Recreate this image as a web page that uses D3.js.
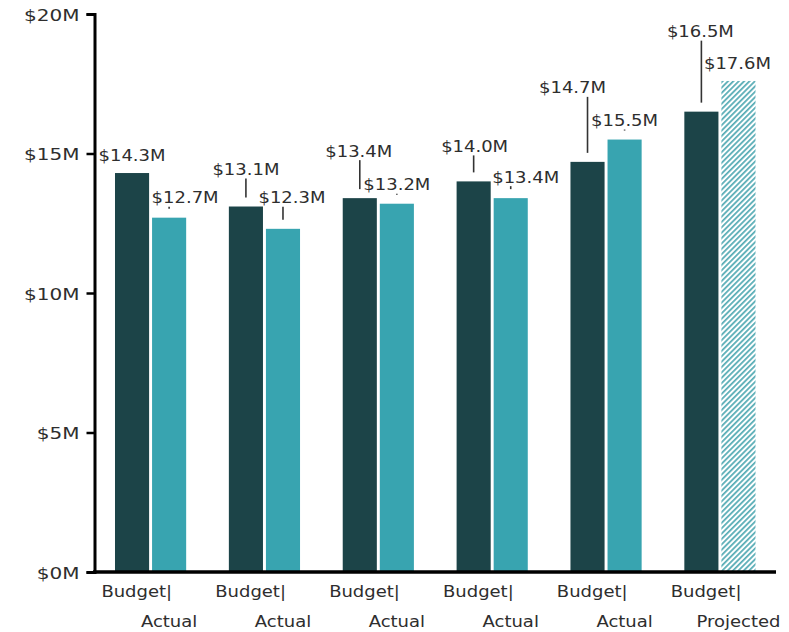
<!DOCTYPE html>
<html>
<head>
<meta charset="utf-8">
<script src="https://cdn.jsdelivr.net/npm/d3@7"></script>
<style>
  html, body { margin: 0; padding: 0; background: #fff; }
  svg { display: block; }
  text { font-family: "DejaVu Sans", Verdana, sans-serif; fill: #2e2e2e; }
</style>
</head>
<body>
<svg id="chart" width="789" height="632"></svg>
<script>
// Six reporting periods: budget vs. actual (last one is a projection), in $M
const periods = [1, 2, 3, 4, 5, 6];
const budget = [14.3, 13.1, 13.4, 14.0, 14.7, 16.5];
const actual = [12.7, 12.3, 13.2, 13.4, 15.5, 17.6];
const actualKind = ["Actual", "Actual", "Actual", "Actual", "Actual", "Projected"];
const yTicks = [0, 5, 10, 15, 20];

// Label nudges (dx, dy from the top centre of each bar) so the value labels don't collide
const budgetLabelNudge = [[0, -18], [0, -37], [-1, -47], [1, -35], [-15, -74], [-1, -80]];
const actualLabelNudge = [[16, -20], [9, -31], [0, -19], [15, -21], [0, -19], [-1, -17]];

const COLOR_BUDGET = "#1c4448";
const COLOR_ACTUAL = "#38a4b0";
const SX = 1.2; // horizontal stretch applied to labels

const svg = d3.select("#chart");
const defs = svg.append("defs");
const hatch = defs.append("pattern")
  .attr("id", "hatch")
  .attr("patternUnits", "userSpaceOnUse")
  .attr("width", 3.8).attr("height", 3.8)
  .attr("patternTransform", "rotate(45)");
hatch.append("rect").attr("width", 3.8).attr("height", 3.8).attr("fill", "#ffffff");
hatch.append("line")
  .attr("x1", 0.9).attr("y1", 0).attr("x2", 0.9).attr("y2", 3.8)
  .attr("stroke", "#3a9ea9").attr("stroke-width", 1.5);

const plotLeft = 94.5, plotRight = 776, plotTop = 14, plotBottom = 572;

const y = d3.scaleLinear().domain([0, 20]).range([plotBottom, plotTop]);
const x0 = d3.scaleBand().domain(periods).range([plotLeft, plotRight])
  .paddingInner(0.375).paddingOuter(0.18);
const x1 = d3.scaleBand().domain(["budget", "actual"]).range([0, x0.bandwidth()])
  .paddingInner(0.08);

const rows = periods.map((p, i) => ({
  period: p, i,
  budget: budget[i], actual: actual[i], kind: actualKind[i]
}));

function placeText(sel, x, yy, sx = SX) {
  return sel.attr("transform", `translate(${x},${yy}) scale(${sx},1)`);
}

// Bars
const g = svg.append("g");
const grp = g.selectAll("g.period").data(rows).join("g")
  .attr("class", "period")
  .attr("transform", d => `translate(${x0(d.period)},0)`);

grp.append("rect")
  .attr("x", x1("budget")).attr("width", x1.bandwidth())
  .attr("y", d => y(d.budget)).attr("height", d => y(0) - y(d.budget))
  .attr("fill", COLOR_BUDGET);

grp.append("rect")
  .attr("x", x1("actual")).attr("width", x1.bandwidth())
  .attr("y", d => y(d.actual)).attr("height", d => y(0) - y(d.actual))
  .attr("fill", d => d.kind === "Projected" ? "url(#hatch)" : COLOR_ACTUAL);

// Value labels with leader lines
const fmt = v => `$${v.toFixed(1)}M`;
function valueLabel(key, nudges) {
  rows.forEach(d => {
    const cx = x0(d.period) + x1(key) + x1.bandwidth() / 2;
    const barTop = y(d[key]);
    const [dx, dy] = nudges[d.i];
    const cy = barTop + dy;
    const y1 = cy + 9, y2 = barTop - 9;
    if (y2 > y1) {
      g.append("line")
        .attr("x1", cx).attr("x2", cx).attr("y1", y1).attr("y2", y2)
        .attr("stroke", "#333").attr("stroke-width", 1.6);
    }
    placeText(g.append("text"), cx + dx, cy + 5.5)
      .attr("text-anchor", "middle")
      .attr("font-size", 15)
      .text(fmt(d[key]));
  });
}
valueLabel("budget", budgetLabelNudge);
valueLabel("actual", actualLabelNudge);

// Y axis
const yAxis = svg.append("g")
  .attr("transform", `translate(${plotLeft},0)`)
  .call(d3.axisLeft(y).tickValues(yTicks).tickFormat(d => `$${d}M`)
    .tickSize(8).tickSizeOuter(8));
yAxis.attr("font-family", null).attr("font-size", null);
yAxis.select(".domain").attr("stroke", "#000").attr("stroke-width", 3);
yAxis.selectAll(".tick line").attr("stroke", "#000").attr("stroke-width", 2.5);
yAxis.selectAll(".tick text")
  .attr("x", 0)
  .attr("transform", "translate(-15,1) scale(1.25,1)")
  .attr("font-size", 16)
  .attr("fill", "#2e2e2e");

// X axis
const xAxis = svg.append("g")
  .attr("transform", `translate(0,${plotBottom})`)
  .call(d3.axisBottom(x0).tickSize(0).tickFormat(""));
xAxis.select(".domain")
  .attr("d", `M${plotLeft - 1.5},0H${plotRight}`)
  .attr("stroke", "#000").attr("stroke-width", 3.5);

rows.forEach(d => {
  const cActual = x0(d.period) + x1("actual") + x1.bandwidth() / 2;
  placeText(svg.append("text"), cActual + 3, plotBottom + 25)
    .attr("text-anchor", "end").attr("font-size", 15)
    .text("Budget|");
  placeText(svg.append("text"), cActual, plotBottom + 55)
    .attr("text-anchor", "middle").attr("font-size", 15)
    .text(d.kind);
});
</script>
</body>
</html>
